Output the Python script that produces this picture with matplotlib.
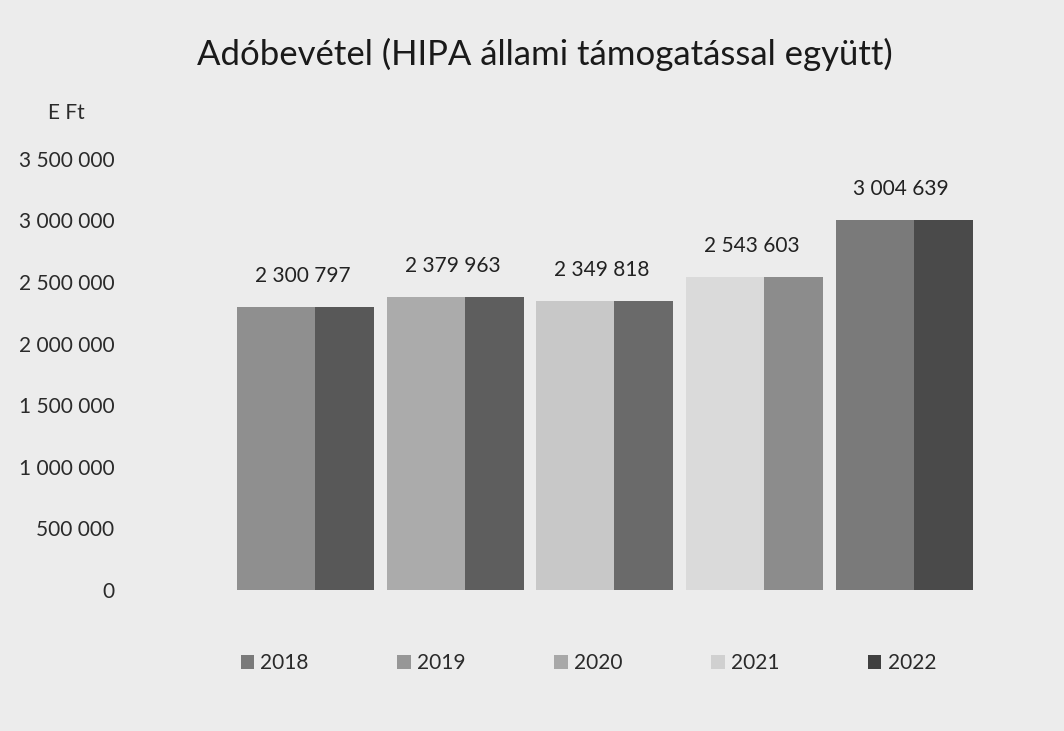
import numpy as np
import matplotlib
matplotlib.use("Agg")
import matplotlib.pyplot as plt
from matplotlib.patches import Patch

plt.rcParams['font.family'] = ['Lato', 'DejaVu Sans']

# Adatok
evek = ["2018", "2019", "2020", "2021", "2022"]
adobevetel = [2300797, 2379963, 2349818, 2543603, 3004639]
yticks = [0, 500000, 1000000, 1500000, 2000000, 2500000, 3000000, 3500000]

# szurke arnyalatok (szkennelt kep)
elso_lap = ["#8f8f8f", "#ababab", "#c8c8c8", "#dadada", "#7a7a7a"]
hatso_lap = ["#585858", "#5e5e5e", "#6a6a6a", "#8c8c8c", "#4a4a4a"]
legend_szin = ["#7a7a7a", "#979797", "#a8a8a8", "#d0d0d0", "#404040"]


def ezres(v):
    return f"{int(v):,}".replace(",", " ")


fig = plt.figure(figsize=(10.64, 7.31), dpi=100, facecolor="#ececec")
ax = fig.add_axes([0.217, 0.193, 0.703, 0.5896])
ax.set_facecolor("none")

x = np.arange(len(evek))
ax.bar(x - 0.458, adobevetel, width=0.522, align="edge", color=elso_lap)
ax.bar(x + 0.064, adobevetel, width=0.394, align="edge", color=hatso_lap)

for xi, v in zip(x, adobevetel):
    ax.annotate(ezres(v), (xi, v), xytext=(-2, 15), textcoords="offset points",
                ha="center", va="bottom", fontsize=15, color="#222222")

ax.set_xlim(-0.5, 4.5)
ax.set_ylim(0, 3500000)
ax.set_yticks(yticks)
ax.set_yticklabels([ezres(t) for t in yticks], fontsize=15, color="#2a2a2a")
ax.set_xticks([])
ax.tick_params(axis="y", length=0, pad=84)
for s in ax.spines.values():
    s.set_visible(False)

fig.text(0.512, 0.925, "Adóbevétel (HIPA állami támogatással együtt)",
         ha="center", va="center", fontsize=25, color="#1a1a1a")
fig.text(0.062, 0.845, "E Ft", ha="center", va="center", fontsize=15,
         color="#2a2a2a")

handles = [Patch(facecolor=c, edgecolor="none") for c in legend_szin]
fig.legend(handles, evek, loc="center", bbox_to_anchor=(0.553, 0.093),
           ncol=5, frameon=False, fontsize=15, handlelength=0.65,
           handleheight=0.65, handletextpad=0.3, columnspacing=4.25,
           labelcolor="#2a2a2a")

fig.savefig("out.png", dpi=100, facecolor=fig.get_facecolor())
